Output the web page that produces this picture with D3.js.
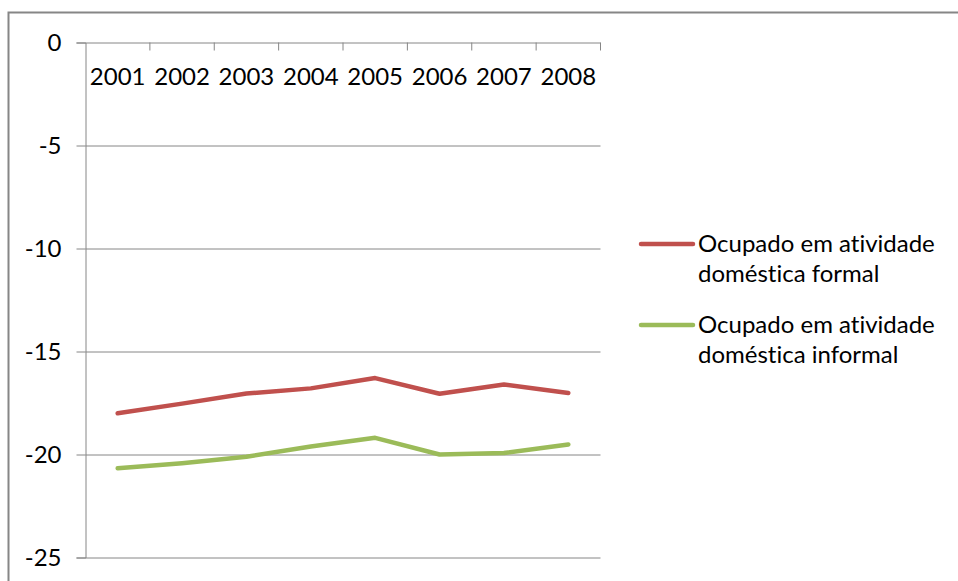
<!DOCTYPE html>
<html>
<head>
<meta charset="utf-8">
<script src="https://cdn.jsdelivr.net/npm/d3@7/dist/d3.min.js"></script>
<style>
  html, body { margin: 0; padding: 0; background: #fff; }
  svg { display: block; }
  text { font-family: Lato, "Open Sans", sans-serif; fill: #000; font-variant-ligatures: none; font-feature-settings: "liga" 0, "clig" 0; }
</style>
</head>
<body>
<svg id="chart" width="958" height="581"></svg>
<script>
const years = ["2001", "2002", "2003", "2004", "2005", "2006", "2007", "2008"];
const formalValues   = [-18.0, -17.53, -17.04, -16.79, -16.29, -17.05, -16.6, -17.01];
const informalValues = [-20.67, -20.42, -20.11, -19.61, -19.19, -20.0, -19.93, -19.51];
const seriesNames = ["Ocupado em atividade doméstica formal", "Ocupado em atividade doméstica informal"];
const seriesLabelLines = [["Ocupado em atividade", "doméstica formal"], ["Ocupado em atividade", "doméstica informal"]];
const seriesColors = ["#C0504D", "#9BBB59"];
const yTicks = [0, -5, -10, -15, -20, -25];

const series = [
  { name: seriesNames[0], lines: seriesLabelLines[0], color: seriesColors[0], values: formalValues },
  { name: seriesNames[1], lines: seriesLabelLines[1], color: seriesColors[1], values: informalValues }
];

const svg = d3.select("#chart");

// outer chart border (extends past the picture on right/bottom)
svg.append("rect")
  .attr("x", 8.5).attr("y", 12.5)
  .attr("width", 1000).attr("height", 1000)
  .attr("fill", "none").attr("stroke", "#868686").attr("stroke-width", 2);

const pLeft = 85.5, pRight = 600.5, pTop = 42.5, pBottom = 557.5;

const x = d3.scaleBand().domain(years).range([pLeft, pRight]).paddingInner(0).paddingOuter(0);
const y = d3.scaleLinear().domain([0, -25]).range([pTop, pBottom]);

// horizontal gridlines
const gy = svg.append("g").attr("transform", `translate(${pRight},0)`)
  .call(d3.axisLeft(y).tickValues(yTicks).tickSize(pRight - pLeft).tickFormat(""));
gy.select(".domain").remove();
gy.selectAll(".tick line").attr("stroke", "#868686").attr("stroke-width", 1);

// y axis with left tick marks
const gyt = svg.append("g").attr("transform", `translate(${pLeft},0)`)
  .call(d3.axisLeft(y).tickValues(yTicks).tickSize(9).tickPadding(15).tickFormat(d => String(d)));
gyt.select(".domain").attr("stroke", "#868686");
gyt.selectAll(".tick line").attr("stroke", "#868686");
gyt.selectAll(".tick text")
  .attr("font-size", 24)
  .attr("font-family", "Lato, 'Open Sans', sans-serif")
  .attr("fill", "#000");

// category axis at y=0
const gx = svg.append("g").attr("transform", `translate(0,${y(0)})`)
  .call(d3.axisBottom(x).tickSize(0).tickFormat(d => d));
gx.select(".domain").remove();
gx.selectAll(".tick text")
  .attr("y", 42)
  .attr("dy", 0)
  .attr("font-size", 24)
  .attr("font-family", "Lato, 'Open Sans', sans-serif")
  .attr("fill", "#000");
// boundary tick marks
svg.append("g").selectAll("line")
  .data(years)
  .join("line")
  .attr("x1", d => x(d) + x.bandwidth())
  .attr("x2", d => x(d) + x.bandwidth())
  .attr("y1", y(0)).attr("y2", y(0) + 8)
  .attr("stroke", "#868686");

// series lines
const line = d3.line()
  .x((d, i) => x(years[i]) + x.bandwidth() / 2)
  .y(d => y(d));

svg.append("g").selectAll("path")
  .data(series)
  .join("path")
  .attr("d", d => line(d.values))
  .attr("fill", "none")
  .attr("stroke", d => d.color)
  .attr("stroke-width", 4.5)
  .attr("stroke-linecap", "round")
  .attr("stroke-linejoin", "round");

// legend
const legendY = [244, 325];
const lg = svg.append("g");
series.forEach((s, i) => {
  const g = lg.append("g").attr("transform", `translate(0,${legendY[i]})`);
  g.append("line")
    .attr("x1", 641).attr("x2", 693)
    .attr("y1", 0).attr("y2", 0)
    .attr("stroke", s.color).attr("stroke-width", 4.5)
    .attr("stroke-linecap", "round");
  const t = g.append("text")
    .attr("x", 698).attr("y", 8)
    .attr("font-size", 24);
  s.lines.forEach((ln, j) => {
    t.append("tspan").attr("x", 698).attr("dy", j === 0 ? 0 : 30).text(ln);
  });
});
</script>
</body>
</html>
